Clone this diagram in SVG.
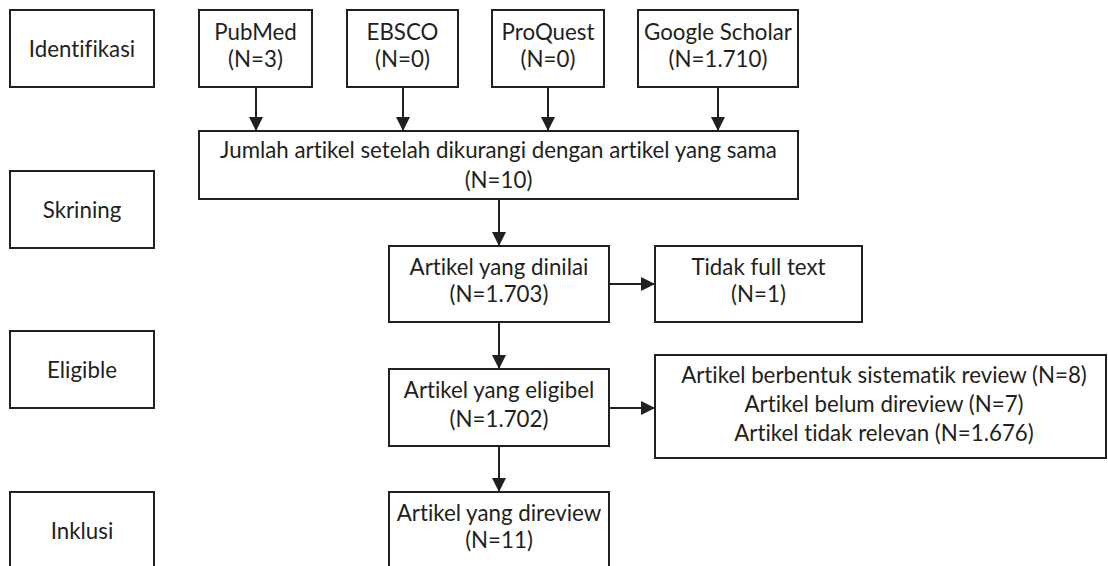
<svg xmlns="http://www.w3.org/2000/svg" width="1108" height="566" viewBox="0 0 1108 566">
  <style>
    .box { fill: #ffffff; stroke: #231f20; stroke-width: 2; }
    .t { font-family: Lato, "Liberation Sans", sans-serif; font-size: 22.3px; fill: #231f20; text-anchor: middle; font-variant-ligatures: none; }
    .c { stroke: #231f20; stroke-width: 2; fill: none; marker-end: url(#ah); }
  </style>
  <defs>
    <marker id="ah" markerUnits="userSpaceOnUse" markerWidth="15" markerHeight="15" refX="14" refY="7.5" orient="auto">
      <path d="M0,0.5 L14,7.5 L0,14.5 Z" fill="#231f20"/>
    </marker>
  </defs>
  <rect width="1108" height="566" fill="#ffffff"/>

  <g id="stage-identifikasi">
    <rect class="box" x="10" y="10" width="144" height="77"/>
    <text class="t" x="82" y="57">Identifikasi</text>
  </g>
  <g id="stage-skrining">
    <rect class="box" x="10" y="171" width="144" height="77"/>
    <text class="t" x="82" y="218">Skrining</text>
  </g>
  <g id="stage-eligible">
    <rect class="box" x="10" y="331" width="144" height="77"/>
    <text class="t" x="82" y="378">Eligible</text>
  </g>
  <g id="stage-inklusi">
    <rect class="box" x="10" y="492" width="144" height="77"/>
    <text class="t" x="82" y="539">Inklusi</text>
  </g>

  <g id="pubmed">
    <rect class="box" x="199" y="10" width="113" height="77"/>
    <text class="t" x="255.5" y="40">PubMed</text>
    <text class="t" x="255.5" y="67">(N=3)</text>
  </g>
  <g id="ebsco">
    <rect class="box" x="347" y="10" width="111" height="77"/>
    <text class="t" x="402.5" y="40">EBSCO</text>
    <text class="t" x="402.5" y="67">(N=0)</text>
  </g>
  <g id="proquest">
    <rect class="box" x="492" y="10" width="112" height="77"/>
    <text class="t" x="548" y="40">ProQuest</text>
    <text class="t" x="548" y="67">(N=0)</text>
  </g>
  <g id="google-scholar">
    <rect class="box" x="638" y="10" width="160" height="77"/>
    <text class="t" x="718" y="40">Google Scholar</text>
    <text class="t" x="718" y="67">(N=1.710)</text>
  </g>

  <g id="jumlah">
    <rect class="box" x="199" y="131" width="599" height="68"/>
    <text class="t" x="498.5" y="158">Jumlah artikel setelah dikurangi dengan artikel yang sama</text>
    <text class="t" x="498.5" y="188">(N=10)</text>
  </g>

  <g id="dinilai">
    <rect class="box" x="389" y="246" width="220" height="76"/>
    <text class="t" x="499" y="275">Artikel yang dinilai</text>
    <text class="t" x="499" y="302">(N=1.703)</text>
  </g>
  <g id="tidak-full-text">
    <rect class="box" x="655" y="246" width="207" height="76"/>
    <text class="t" x="758.5" y="275">Tidak full text</text>
    <text class="t" x="758.5" y="302">(N=1)</text>
  </g>

  <g id="eligibel">
    <rect class="box" x="389" y="369" width="220" height="77"/>
    <text class="t" x="499" y="398">Artikel yang eligibel</text>
    <text class="t" x="499" y="427">(N=1.702)</text>
  </g>
  <g id="excluded">
    <rect class="box" x="655" y="355" width="451" height="103"/>
    <text class="t" x="884" y="383">Artikel berbentuk sistematik review (N=8)</text>
    <text class="t" x="884" y="412">Artikel belum direview (N=7)</text>
    <text class="t" x="884" y="441">Artikel tidak relevan (N=1.676)</text>
  </g>

  <g id="direview">
    <rect class="box" x="389" y="492" width="220" height="77"/>
    <text class="t" x="499" y="521">Artikel yang direview</text>
    <text class="t" x="499" y="548">(N=11)</text>
  </g>

  <g id="connectors">
    <line class="c" x1="256" y1="87" x2="256" y2="131"/>
    <line class="c" x1="403" y1="87" x2="403" y2="131"/>
    <line class="c" x1="548" y1="87" x2="548" y2="131"/>
    <line class="c" x1="718" y1="87" x2="718" y2="131"/>
    <line class="c" x1="499" y1="199" x2="499" y2="246"/>
    <line class="c" x1="609" y1="284" x2="655" y2="284"/>
    <line class="c" x1="499" y1="322" x2="499" y2="369"/>
    <line class="c" x1="609" y1="408" x2="655" y2="408"/>
    <line class="c" x1="499" y1="446" x2="499" y2="492"/>
  </g>
</svg>
